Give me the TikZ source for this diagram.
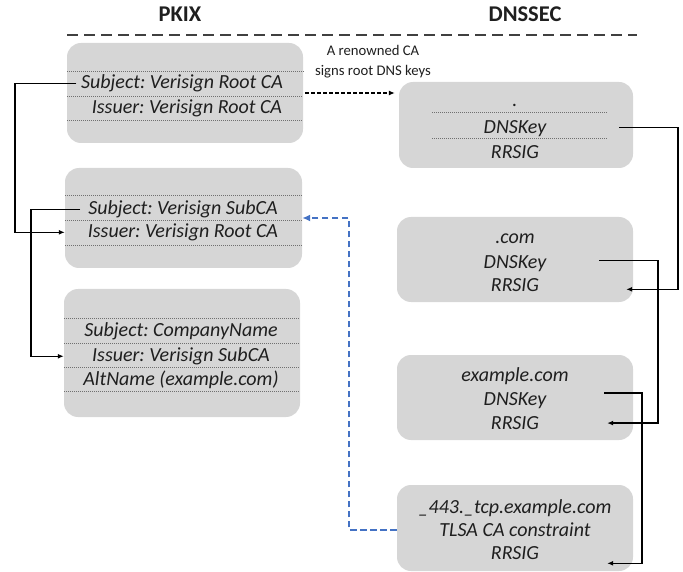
\documentclass[tikz,border=0pt]{standalone}
\usepackage{fontspec}
\setmainfont{Carlito}
\usetikzlibrary{arrows.meta,calc}
\definecolor{boxgray}{HTML}{D6D6D6}
\definecolor{dotgray}{HTML}{707070}
\definecolor{linkblue}{HTML}{4472C4}
\frenchspacing
\begin{document}
\begin{tikzpicture}[x=1pt,y=-1pt,
  box/.style={fill=boxgray, rounded corners=14pt, inner sep=0pt},
  row/.style={font=\fontsize{20}{24}\selectfont\itshape, inner sep=0pt, anchor=base, text=black!88},
  title/.style={font=\fontsize{22.5}{27}\selectfont\bfseries, inner sep=0pt, anchor=base, text=black!88},
  note/.style={font=\fontsize{14.7}{20}\selectfont, inner sep=0pt, align=center, text=black!88},
  dotline/.style={dotgray, line width=0.7pt, dash pattern=on 1pt off 1pt},
  link/.style={black, line width=1.3pt, -{Latex[length=6pt,width=5pt]}},
  dashlink/.style={black, line width=1.4pt, dash pattern=on 4pt off 2pt, -{Latex[length=6pt,width=5pt]}},
  bluelink/.style={linkblue, line width=2.3pt, dash pattern=on 6.5pt off 3.5pt, -{Latex[length=8pt,width=7pt]}}
]
\useasboundingbox (0,0) rectangle (683,572);

% titles and separator
\node[title] (tpkix) at (180,22) {PKIX};
\node[title] (tdns) at (525,22) {DNSSEC};
\draw[black!75, line width=1.3pt, dash pattern=on 11pt off 6pt] (67,35) -- (637,35);

% PKIX boxes
\node[box, minimum width=236pt, minimum height=100pt] (b1) at (185,93) {};
\node[box, minimum width=237pt, minimum height=100pt] (b2) at (183.5,218) {};
\node[box, minimum width=236pt, minimum height=128pt] (b3) at (182,353) {};

% DNSSEC boxes
\node[box, minimum width=234pt, minimum height=86pt] (r1) at (516,125) {};
\node[box, minimum width=236pt, minimum height=85pt] (r2) at (515,259.5) {};
\node[box, minimum width=236pt, minimum height=85pt] (r3) at (515,397.5) {};
\node[box, minimum width=236pt, minimum height=86pt] (r4) at (515,528) {};

% dotted separators
\draw[dotline] (67,71) -- (305,71);
\draw[dotline] (67,96) -- (303,96);
\draw[dotline] (67,120) -- (303,120);
\draw[dotline] (65,195) -- (302,195);
\draw[dotline] (65,220) -- (302,220);
\draw[dotline] (65,245) -- (302,245);
\draw[dotline] (64,318) -- (300,318);
\draw[dotline] (64,343) -- (300,343);
\draw[dotline] (64,367) -- (300,367);
\draw[dotline] (64,391) -- (300,391);
\draw[dotline] (432,112) -- (608,112);
\draw[dotline] (432,138) -- (608,138);

% PKIX rows
\node[row] (s1) at (182,88.5) {Subject: Verisign Root CA};
\node[row] (i1) at (187,113.5) {Issuer: Verisign Root CA};
\node[row] (s2) at (183,214.5) {Subject: Verisign SubCA};
\node[row] (i2) at (183,237.5) {Issuer: Verisign Root CA};
\node[row] (s3) at (181,336.5) {Subject: CompanyName};
\node[row] (i3) at (181,361.5) {Issuer: Verisign SubCA};
\node[row] (a3) at (181,385.5) {AltName (example.com)};

% DNSSEC rows
\node[row] (z1) at (515,107) {.};
\node[row] (k1) at (515,133.5) {DNSKey};
\node[row] (g1) at (515,158.5) {RRSIG};
\node[row] (z2) at (515,243.5) {.com};
\node[row] (k2) at (515,268.5) {DNSKey};
\node[row] (g2) at (515,291) {RRSIG};
\node[row] (z3) at (515,381.5) {example.com};
\node[row] (k3) at (515,405) {DNSKey};
\node[row] (g3) at (515,429.5) {RRSIG};
\node[row] (z4) at (515,513.5) {\_443.\_tcp.example.com};
\node[row] (t4) at (515,536.5) {TLSA CA constraint};
\node[row] (g4) at (515,559.5) {RRSIG};

% note
\node[note] (lab) at (373,62) {A renowned CA\\signs root DNS keys};

% routing columns
\coordinate (colA) at (15,0);
\coordinate (colB) at (31,0);
\coordinate (colR1) at (678,0);
\coordinate (colR2) at (658,0);
\coordinate (colR3) at (642,0);
\coordinate (colBlue) at (349,0);

% PKIX chain
\draw[link] ([xshift=-4.5pt]s1.west) -- (s1.west -| colA) |- (i2.west -| b2.west);
\draw[link] ([xshift=-8pt]s2.west) -- (s2.west -| colB) |- (i3.west -| b3.west);

% CA signs root
\draw[dashlink, shorten <=2pt, shorten >=4pt] (b1.east) -- (b1.east -| r1.west);

% DNSSEC chain
\draw[link] ($(k1.center -| r1.east)+(-14,-1)$) -- ($(k1.center -| colR1)+(0,-1)$) |- ($(g2.south -| r2.east)+(-7,-2)$);
\draw[link] ($(k2.center -| r2.east)+(-34,-3)$) -- ($(k2.center -| colR2)+(0,-3)$) |- ($(g3.center -| r3.east)+(-26,0)$);
\draw[link] ($(k3.center -| r3.east)+(-29,-7)$) -- ($(k3.center -| colR3)+(0,-7)$) |- ($(g4.south -| r4.east)+(-26,3.5)$);

% TLSA constrains SubCA
\draw[bluelink] (t4.west -| r4.west) -| (colBlue |- b2.east) -- (b2.east);
\end{tikzpicture}
\end{document}
